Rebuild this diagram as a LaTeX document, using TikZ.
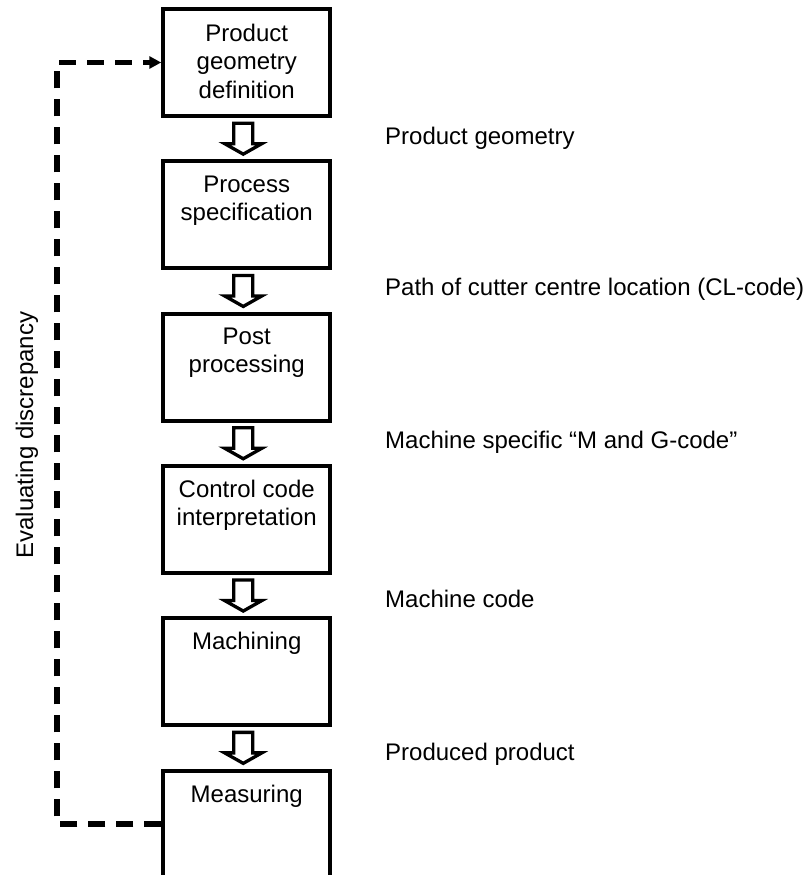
\documentclass[tikz,border=0pt]{standalone}
\usepackage{fontspec}
\setmainfont{Liberation Sans}
\usetikzlibrary{arrows.meta,calc}
\begin{document}
\begin{tikzpicture}[x=1pt,y=-1pt,
  stage/.style={draw, line width=4pt, minimum width=167pt, minimum height=107pt, inner sep=0pt},
  stagetitle/.style={anchor=north, inner sep=0pt, align=center, font=\fontsize{24}{28.5}\selectfont},
  note/.style={anchor=base west, inner sep=0pt, font=\fontsize{24}{28.5}\selectfont},
  feedback/.style={line width=5.5pt, dash pattern=on 17pt off 11pt},
  downarrow/.pic={\draw[line width=3.3pt, fill=white, line join=miter]
    (-9.5,-15.5) -- (9.5,-15.5) -- (9.5,5) -- (18.6,5) -- (0,15.5) -- (-18.6,5) -- (-9.5,5) -- cycle;}
]
\clip (0,0) rectangle (809,875);
\fill[white] (0,0) rectangle (809,875);

% process stages
\node[stage] (b1) at (246.75,62.5) {};
\node[stage] (b2) at (246.75,214.8) {};
\node[stage] (b3) at (246.75,367.1) {};
\node[stage] (b4) at (246.75,519.4) {};
\node[stage] (b5) at (246.75,671.7) {};
\node[stage] (b6) at (246.75,824.0) {};

\node[stagetitle] (t1) at ($(b1.north)+(0,16.5)$) {Product\\geometry\\definition};
\node[stagetitle] (t2) at ($(b2.north)+(0,16)$) {Process\\specification};
\node[stagetitle] (t3) at ($(b3.north)+(0,16)$) {Post\\processing};
\node[stagetitle] (t4) at ($(b4.north)+(0,16)$) {Control code\\interpretation};
\node[stagetitle] (t5) at ($(b5.north)+(0,16)$) {Machining};
\node[stagetitle] (t6) at ($(b6.north)+(0,16)$) {Measuring};

% block arrows between stages
\pic[xshift=-3.5pt] at ($(b1.south)!0.5!(b2.north)$) {downarrow};
\pic[xshift=-3.5pt] at ($(b2.south)!0.5!(b3.north)$) {downarrow};
\pic[xshift=-3.5pt] at ($(b3.south)!0.5!(b4.north)$) {downarrow};
\pic[xshift=-3.5pt] at ($(b4.south)!0.5!(b5.north)$) {downarrow};
\pic[xshift=-3.5pt] at ($(b5.south)!0.5!(b6.north)$) {downarrow};

% data passed between stages
\node[note] (n1) at (385,144) {Product geometry};
\node[note] (n2) at (385,295) {Path of cutter centre location (CL-code)};
\node[note] (n3) at (385,448) {Machine specific “M and G-code”};
\node[note] (n4) at (385,607) {Machine code};
\node[note] (n5) at (385,760) {Produced product};

% feedback loop
\coordinate (fb) at (57,0);
\draw[feedback, -{Triangle[length=12pt,width=12pt]}]
  (b6.west) -- (b6.west -| fb) -- (b1.west -| fb) -- (b1.west);
\node[anchor=base, rotate=90, inner sep=0pt, font=\fontsize{24}{28.5}\selectfont] (fbl) at (33,435) {Evaluating discrepancy};
\end{tikzpicture}
\end{document}
